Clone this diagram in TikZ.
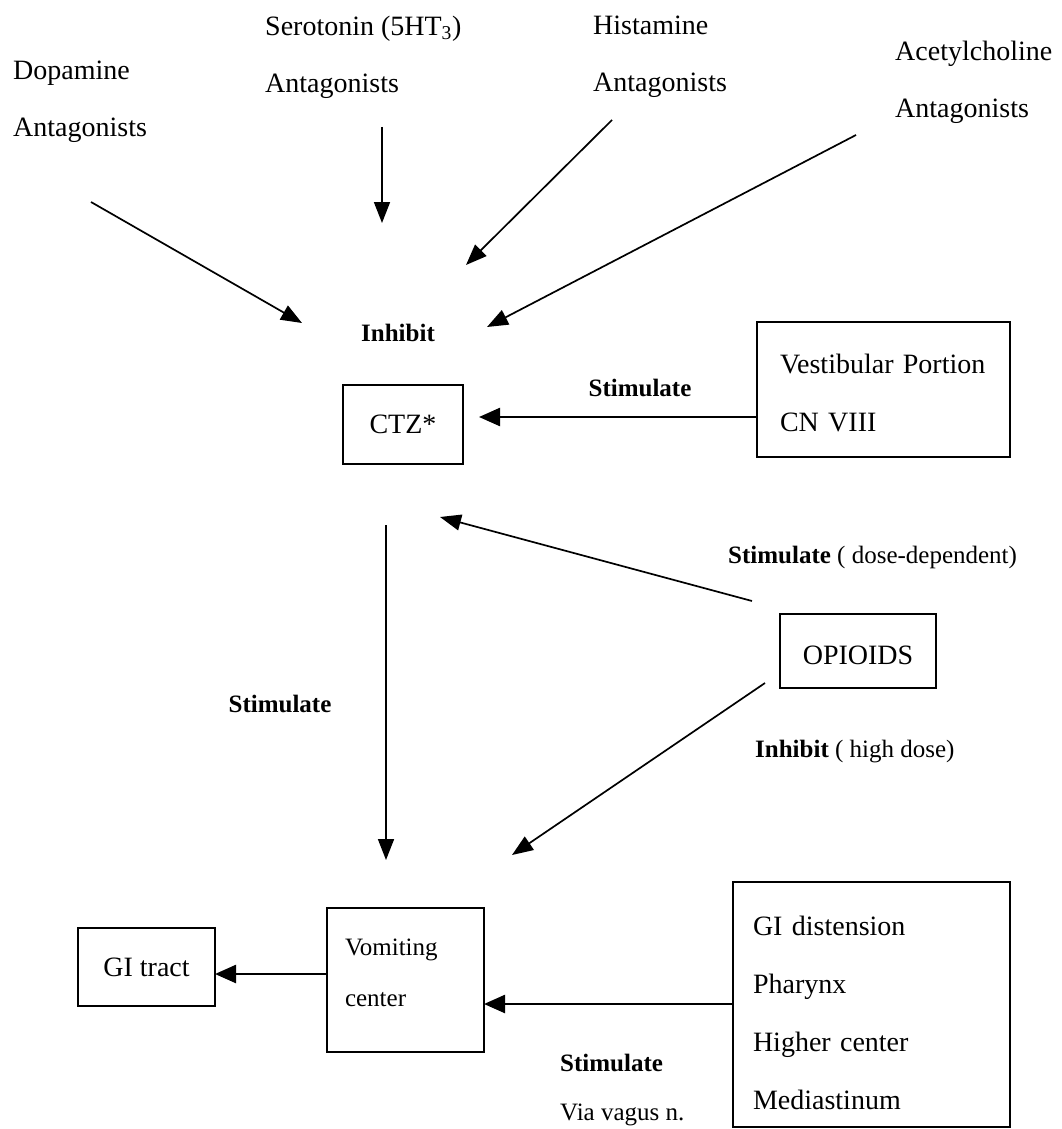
\documentclass[tikz,border=0pt]{standalone}
\usepackage{fontspec}
\setmainfont{Liberation Serif}
\usetikzlibrary{arrows.meta}
\begin{document}
\begin{tikzpicture}[x=1pt,y=-1pt,
  lbl/.style={anchor=west,inner sep=0pt,font=\fontsize{28}{57}\selectfont,align=left},
  blbl/.style={inner sep=0pt,font=\fontsize{25}{30}\selectfont\bfseries},
  slbl/.style={anchor=west,inner sep=0pt,font=\fontsize{25}{30}\selectfont},
  box/.style={draw,line width=2pt,inner sep=0pt},
  arr/.style={line width=1.7pt,-{Triangle[length=21pt,width=16pt]}},
  harr/.style={line width=2.4pt,-{Triangle[length=21pt,width=18pt]}}]
\useasboundingbox (0,0) rectangle (1062,1129);
% top labels
\node[lbl] (dop) at (13,102) {Dopamine\\Antagonists};
\node[lbl] (ser) at (265,57) {Serotonin (5HT\textsubscript{3})\\Antagonists};
\node[lbl] (his) at (593,57) {Histamine\\Antagonists};
\node[lbl] (ach) at (895,82) {Acetylcholine\\Antagonists};
% top arrow endpoints
\coordinate (d1) at (91,202);  \coordinate (d2) at (302,323);
\coordinate (s1) at (382,127); \coordinate (s2) at (382,223);
\coordinate (h1) at (612,120); \coordinate (h2) at (466,265);
\coordinate (a1) at (856,135); \coordinate (a2) at (487,327);
\draw[arr] (d1) -- (d2);
\draw[arr] (s1) -- (s2);
\draw[arr] (h1) -- (h2);
\draw[arr] (a1) -- (a2);
\node[blbl] (inh) at (398,333) {Inhibit};
% CTZ
\node[box,minimum width=120pt,minimum height=79pt,font=\fontsize{28}{34}\selectfont] (ctz) at (403,424.5) {CTZ*};
% Vestibular
\node[box,minimum width=253pt,minimum height=135pt,inner xsep=23pt,text width=207pt,align=left,font=\fontsize{28}{58}\selectfont] (vest) at (883.5,389.5) {\rule{0pt}{27pt}Vestibular Portion\\CN VIII};
\coordinate (v1) at (757,417); \coordinate (v2) at (479,417);
\draw[harr] (v1) -- (v2);
\node[blbl] (st1) at (640,388) {Stimulate};
% CTZ to vomiting
\coordinate (c1) at (386,525); \coordinate (c2) at (386,860);
\draw[arr] (c1) -- (c2);
\node[blbl] (st2) at (280,704) {Stimulate};
% Opioids
\node[slbl] (st3) at (728,557) {\textbf{Stimulate} ( dose-dependent)};
\node[box,minimum width=156pt,minimum height=74pt,font=\fontsize{28}{34}\selectfont] (opi) at (858,651) {\rule{0pt}{27pt}OPIOIDS};
\coordinate (o1) at (752,601); \coordinate (o2) at (440,517);
\coordinate (o3) at (765,683); \coordinate (o4) at (512,855);
\draw[arr] (o1) -- (o2);
\draw[arr] (o3) -- (o4);
\node[slbl] (inh2) at (755,752) {\textbf{Inhibit} ( high dose)};
% bottom
\node[box,minimum width=137pt,minimum height=78pt,font=\fontsize{28}{34}\selectfont] (gi) at (146.5,967) {GI tract};
\node[box,minimum width=157pt,minimum height=144pt,inner xsep=18pt,text width=121pt,align=left,font=\fontsize{25}{51}\selectfont] (vom) at (405.5,980) {Vomiting\\center\rule[-14pt]{0pt}{1pt}};
\coordinate (g1) at (327,974); \coordinate (g2) at (215,974);
\draw[harr] (g1) -- (g2);
\node[box,minimum width=277pt,minimum height=245pt,inner xsep=20pt,text width=237pt,align=left,font=\fontsize{28}{58}\selectfont] (src) at (871.5,1004.5) {\rule{0pt}{37pt}GI distension\\Pharynx\\Higher center\\Mediastinum};
\coordinate (r1) at (733,1004); \coordinate (r2) at (484,1004);
\draw[harr] (r1) -- (r2);
\node[anchor=west,inner sep=0pt,font=\fontsize{25}{30}\selectfont\bfseries] (st4) at (560,1063) {Stimulate};
\node[slbl] (via) at (560,1115) {Via vagus n.};
\end{tikzpicture}
\end{document}
